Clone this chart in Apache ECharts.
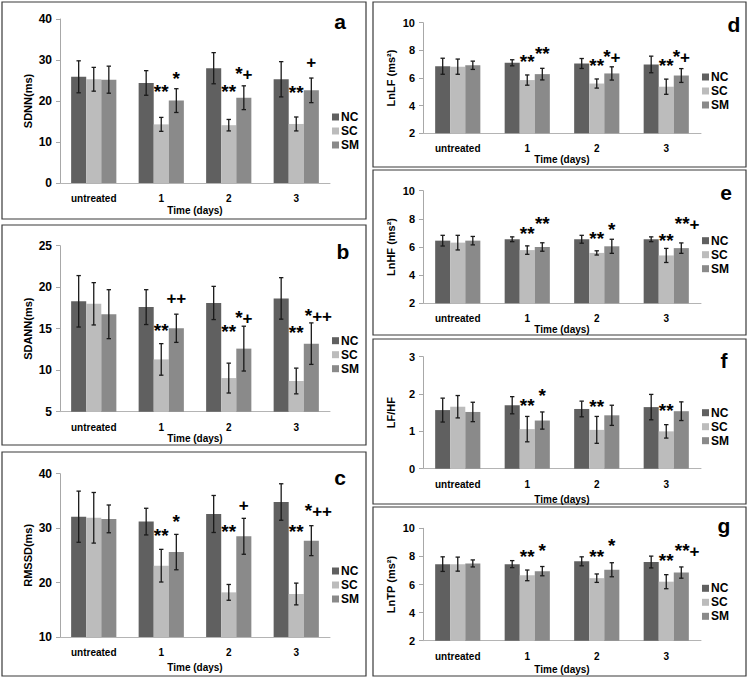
<!DOCTYPE html>
<html><head><meta charset="utf-8">
<script src="https://cdn.jsdelivr.net/npm/echarts@6/dist/echarts.min.js"></script>
<style>html,body{margin:0;padding:0;background:#fff}#c{width:748px;height:678px}</style>
</head><body><div id="c"></div>
<script>
// ---------- DATA ----------
const categories = ['untreated', '1', '2', '3'];
const seriesNames = ['NC', 'SC', 'SM'];

// a: SDNN (ms)
const sdnnNC = [25.9, 24.4, 28.0, 25.3], sdnnNCsd = [3.9, 3.0, 3.8, 4.3];
const sdnnSC = [25.3, 14.3, 14.1, 14.4], sdnnSCsd = [2.9, 1.7, 1.4, 1.7];
const sdnnSM = [25.2, 20.1, 20.8, 22.6], sdnnSMsd = [3.3, 2.9, 2.9, 3.0];
const sdnnMarks = [[1, 1, 22.2, '**'], [1, 2, 25.6, '*'], [2, 1, 22.2, '**'], [2, 2, 26.8, '*+'], [3, 1, 22.0, '**'], [3, 2, 29.5, '+']];

// b: SDANN (ms)
const sdannNC = [18.3, 17.6, 18.1, 18.65], sdannNCsd = [3.1, 2.1, 2.0, 2.5];
const sdannSC = [18.0, 11.3, 9.05, 8.7], sdannSCsd = [2.55, 1.9, 1.8, 1.55];
const sdannSM = [16.75, 15.05, 12.6, 13.2], sdannSMsd = [2.95, 1.7, 2.7, 2.5];
const sdannMarks = [[1, 1, 14.8, '**'], [1, 2, 18.6, '++'], [2, 1, 14.7, '**'], [2, 2, 16.4, '*+'], [3, 1, 14.6, '**'], [3, 2, 16.65, '*++']];

// c: RMSSD (ms)
const rmssdNC = [32.1, 31.2, 32.6, 34.8], rmssdNCsd = [4.7, 2.45, 3.4, 3.35];
const rmssdSC = [31.9, 23.1, 18.2, 17.9], rmssdSCsd = [4.65, 3.0, 1.45, 2.0];
const rmssdSM = [31.7, 25.6, 28.5, 27.7], rmssdSMsd = [2.55, 3.25, 3.3, 2.75];
const rmssdMarks = [[1, 1, 28.7, '**'], [1, 2, 31.3, '*'], [2, 1, 29.3, '**'], [2, 2, 34.1, '+'], [3, 1, 29.3, '**'], [3, 2, 33.3, '*++']];

// d: LnLF (ms²)
const lnlfNC = [6.85, 7.1, 7.05, 6.98], lnlfNCsd = [0.58, 0.22, 0.36, 0.6];
const lnlfSC = [6.82, 5.85, 5.6, 5.37], lnlfSCsd = [0.55, 0.37, 0.33, 0.55];
const lnlfSM = [6.92, 6.28, 6.33, 6.18], lnlfSMsd = [0.3, 0.42, 0.48, 0.5];
const lnlfMarks = [[1, 1, 7.18, '**'], [1, 2, 7.79, '**'], [2, 1, 6.87, '**'], [2, 2, 7.54, '*+'], [3, 1, 6.87, '**'], [3, 2, 7.59, '*+']];

// e: LnHF (ms²)
const lnhfNC = [6.45, 6.55, 6.55, 6.55], lnhfNCsd = [0.38, 0.17, 0.28, 0.17];
const lnhfSC = [6.31, 5.78, 5.58, 5.4], lnhfSCsd = [0.52, 0.3, 0.15, 0.5];
const lnhfSM = [6.45, 6.0, 6.05, 5.92], lnhfSMsd = [0.3, 0.3, 0.5, 0.37];
const lnhfMarks = [[1, 1, 6.97, '**'], [1, 2, 7.68, '**'], [2, 1, 6.62, '**'], [2, 2, 7.26, '*'], [3, 1, 6.43, '**'], [3, 2, 7.68, '**+']];

// f: LF/HF
const lfhfNC = [1.57, 1.7, 1.6, 1.65], lfhfNCsd = [0.32, 0.23, 0.21, 0.34];
const lfhfSC = [1.66, 1.06, 1.04, 1.0], lfhfSCsd = [0.3, 0.34, 0.36, 0.18];
const lfhfSM = [1.52, 1.29, 1.43, 1.54], lfhfSMsd = [0.26, 0.23, 0.27, 0.25];
const lfhfMarks = [[1, 1, 1.68, '**'], [1, 2, 1.95, '*'], [2, 1, 1.66, '**'], [3, 1, 1.57, '**']];

// g: LnTP (ms²)
const lntpNC = [7.45, 7.45, 7.65, 7.6], lntpNCsd = [0.52, 0.25, 0.32, 0.42];
const lntpSC = [7.45, 6.65, 6.45, 6.2], lntpSCsd = [0.5, 0.38, 0.3, 0.5];
const lntpSM = [7.5, 6.95, 7.05, 6.85], lntpSMsd = [0.25, 0.33, 0.5, 0.4];
const lntpMarks = [[1, 1, 7.98, '**'], [1, 2, 8.41, '*'], [2, 1, 7.98, '**'], [2, 2, 8.76, '*'], [3, 1, 7.74, '**'], [3, 2, 8.41, '**+']];

const yTitles = ['SDNN(ms)', 'SDANN(ms)', 'RMSSD(ms)', 'LnLF (ms²)', 'LnHF (ms²)', 'LF/HF', 'LnTP (ms²)'];
const panelLetters = ['a', 'b', 'c', 'd', 'e', 'f', 'g'];
const xTitle = 'Time (days)';
const yRanges = [[0, 40, 10], [5, 25, 5], [10, 40, 10], [2, 10, 2], [2, 10, 2], [0, 3, 1], [2, 10, 2]];

const panelData = [
  {mean: [sdnnNC, sdnnSC, sdnnSM], sd: [sdnnNCsd, sdnnSCsd, sdnnSMsd], marks: sdnnMarks},
  {mean: [sdannNC, sdannSC, sdannSM], sd: [sdannNCsd, sdannSCsd, sdannSMsd], marks: sdannMarks},
  {mean: [rmssdNC, rmssdSC, rmssdSM], sd: [rmssdNCsd, rmssdSCsd, rmssdSMsd], marks: rmssdMarks},
  {mean: [lnlfNC, lnlfSC, lnlfSM], sd: [lnlfNCsd, lnlfSCsd, lnlfSMsd], marks: lnlfMarks},
  {mean: [lnhfNC, lnhfSC, lnhfSM], sd: [lnhfNCsd, lnhfSCsd, lnhfSMsd], marks: lnhfMarks},
  {mean: [lfhfNC, lfhfSC, lfhfSM], sd: [lfhfNCsd, lfhfSCsd, lfhfSMsd], marks: lfhfMarks},
  {mean: [lntpNC, lntpSC, lntpSM], sd: [lntpNCsd, lntpSCsd, lntpSMsd], marks: lntpMarks}
];

// ---------- LAYOUT / STYLE ----------
const FONT = '"Liberation Sans", Arial, Helvetica, sans-serif';
const COLORS = ['#606060', '#bcbcbc', '#8a8a8a'];
const layout = [
  {grid: {left: 60, top: 19, width: 270, height: 164}, legend: [332, 111], label: [340, 21], box: [2, 2, 364, 217], gap: 0.33, xGap: 22, yFont: 12},
  {grid: {left: 60, top: 245.7, width: 270, height: 166}, legend: [332, 334.7], label: [343, 251], box: [2, 225, 364, 220], gap: 0.33, xGap: 18.6, yFont: 12},
  {grid: {left: 60, top: 473.7, width: 270, height: 163.3}, legend: [332, 565], label: [340, 477], box: [2, 452, 364, 224], gap: 0.33, xGap: 25, yFont: 12},
  {grid: {left: 423, top: 22.7, width: 278, height: 110.6}, legend: [702, 71], label: [734, 24], box: [373, 2, 373, 165], gap: 0.35, xGap: 18.7, yFont: 11},
  {grid: {left: 423, top: 190.7, width: 278, height: 112.6}, legend: [702, 234.7], label: [726, 192], box: [373, 170, 373, 165], gap: 0.35, xGap: 18.4, yFont: 11},
  {grid: {left: 423, top: 356.7, width: 278, height: 112}, legend: [702, 406.7], label: [724, 360], box: [373, 339, 373, 165], gap: 0.35, xGap: 26, yFont: 11},
  {grid: {left: 423, top: 528.3, width: 278, height: 112.4}, legend: [702, 582.3], label: [724, 525], box: [373, 507, 373, 169], gap: 0.35, xGap: 24, yFont: 11}
];

const STAR_FS = 19, PLUS_FS = 17;
const GLYPH_W = {'*': 0.389 * STAR_FS, '+': 0.584 * PLUS_FS};
function textW(t) { let w = 0; for (const ch of t) w += GLYPH_W[ch] || 8; return w; }
const annRich = {
  s: {fontFamily: FONT, fontWeight: 'bold', fontSize: STAR_FS, fill: '#000', color: '#000', verticalAlign: 'bottom'},
  p: {fontFamily: FONT, fontWeight: 'bold', fontSize: PLUS_FS, fill: '#000', color: '#000', verticalAlign: 'bottom'}
};

function errRender(gapFrac) {
  return function (params, api) {
    const cat = api.value(0), lo = api.value(1), hi = api.value(2), s = api.value(3);
    const band = api.size([1, 0])[0];
    const bw = band * (1 - gapFrac) / 3;
    const p0 = api.coord([cat, lo]), p1 = api.coord([cat, hi]);
    const x = p0[0] + (s - 1) * bw;
    const cap = 2.2;
    const st = {stroke: '#1a1a1a', lineWidth: 1.3};
    return {type: 'group', children: [
      {type: 'line', shape: {x1: x, y1: p0[1], x2: x, y2: p1[1]}, style: st},
      {type: 'line', shape: {x1: x - cap, y1: p0[1], x2: x + cap, y2: p0[1]}, style: st},
      {type: 'line', shape: {x1: x - cap, y1: p1[1], x2: x + cap, y2: p1[1]}, style: st}
    ]};
  };
}
function annRender(list, gapFrac) {
  return function (params, api) {
    const a = list[params.dataIndex];
    const band = api.size([1, 0])[0];
    const bw = band * (1 - gapFrac) / 3;
    const p = api.coord([a[0], a[2]]);
    const cx = p[0] + (a[1] - 1) * bw;
    let x = cx, align = 'center';
    if (textW(a[3]) > bw * 1.5) { x = cx - bw / 2 + 1; align = 'left'; }
    const txt = a[3].split('').map(ch => ch === '*' ? '{s|*}' : '{p|+}').join('');
    return {type: 'text', x: x, y: p[1], style: {
      text: txt, rich: annRich, x: 0, y: 0, fill: '#000',
      font: 'bold 16px ' + FONT,
      align: align, textAlign: align, verticalAlign: 'middle', textVerticalAlign: 'middle'
    }};
  };
}

const grids = [], xAxes = [], yAxes = [], series = [], legends = [], graphics = [];
panelData.forEach((pd, i) => {
  const L = layout[i];
  grids.push(L.grid);
  xAxes.push({
    type: 'category', gridIndex: i, data: categories,
    name: xTitle, nameLocation: 'middle', nameGap: L.xGap,
    nameTextStyle: {fontFamily: FONT, fontWeight: 'bold', fontSize: 10, color: '#000'},
    axisLine: {lineStyle: {color: '#b4b4b4', width: 1}},
    axisTick: {show: false},
    axisLabel: {margin: 10.5, fontFamily: FONT, fontWeight: 'bold', fontSize: 10, color: '#000', interval: 0}
  });
  const yr = yRanges[i];
  yAxes.push({
    type: 'value', gridIndex: i, min: yr[0], max: yr[1], interval: yr[2],
    name: yTitles[i], nameLocation: 'middle', nameGap: 26.5,
    nameTextStyle: {fontFamily: FONT, fontWeight: 'bold', fontSize: 11, color: '#000'},
    axisLine: {show: true, lineStyle: {color: '#a8a8a8', width: 1}},
    axisTick: {show: true, length: 4, lineStyle: {color: '#a8a8a8'}},
    splitLine: {show: false},
    axisLabel: {margin: 8, fontFamily: FONT, fontWeight: 'bold', fontSize: L.yFont, color: '#000'}
  });
  pd.mean.forEach((vals, s) => {
    series.push({
      type: 'bar', name: seriesNames[s], xAxisIndex: i, yAxisIndex: i,
      data: vals, barGap: '0%', barCategoryGap: (L.gap * 100) + '%',
      itemStyle: {color: COLORS[s]}, silent: true, animation: false
    });
  });
  const errData = [];
  pd.mean.forEach((vals, s) => vals.forEach((v, c) => errData.push([c, v - pd.sd[s][c], v + pd.sd[s][c], s])));
  series.push({
    type: 'custom', xAxisIndex: i, yAxisIndex: i, data: errData, z: 5,
    encode: {x: 0, y: [1, 2]}, renderItem: errRender(L.gap), silent: true, animation: false
  });
  series.push({
    type: 'custom', xAxisIndex: i, yAxisIndex: i, data: pd.marks.map(m => [m[0], m[2]]), z: 6,
    encode: {x: 0, y: 1}, renderItem: annRender(pd.marks, L.gap), silent: true, animation: false, clip: false
  });
  legends.push({
    left: L.legend[0], top: L.legend[1], orient: 'vertical', icon: 'rect',
    itemWidth: 7, itemHeight: 7, itemGap: 2, padding: 0, selectedMode: false,
    data: seriesNames,
    textStyle: {fontFamily: FONT, fontWeight: 'bold', fontSize: 12, color: '#000', padding: [0, 0, 0, -3]}
  });
  graphics.push({
    type: 'rect', shape: {x: L.box[0], y: L.box[1], width: L.box[2], height: L.box[3]},
    style: {fill: 'none', stroke: '#3a3a3a', lineWidth: 1.2}, silent: true, z: -1
  });
  graphics.push({
    type: 'text', x: L.label[0], y: L.label[1],
    style: {text: panelLetters[i], font: 'bold 21px ' + FONT, fill: '#000', align: 'center', verticalAlign: 'middle', textAlign: 'center', textVerticalAlign: 'middle'},
    silent: true
  });
});

const chart = echarts.init(document.getElementById('c'), null, {renderer: 'svg', width: 748, height: 678});
chart.setOption({
  backgroundColor: '#fff',
  animation: false,
  grid: grids, xAxis: xAxes, yAxis: yAxes, legend: legends,
  series: series, graphic: graphics
});
</script></body></html>
